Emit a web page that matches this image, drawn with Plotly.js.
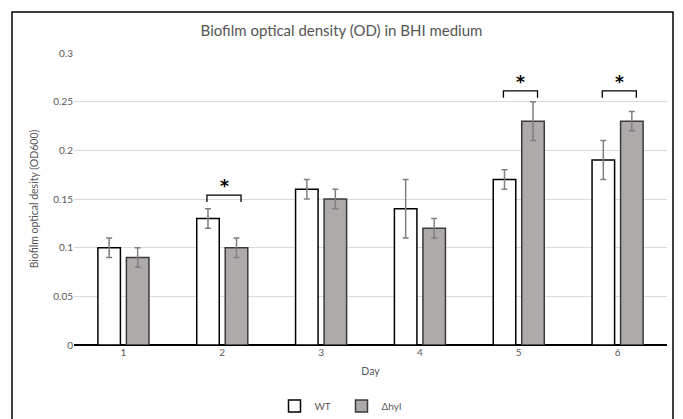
<!DOCTYPE html>
<html>
<head>
<meta charset="utf-8">
<script src="https://cdn.plot.ly/plotly-3.0.1.min.js"></script>
<style>html,body{margin:0;padding:0;background:#fff;}#chart{width:683px;height:419px;}</style>
</head>
<body>
<div id="chart"></div>
<script>
const days = [1, 2, 3, 4, 5, 6];
const dayLabels = ["1", "2", "3", "4", "5", "6"];
const wtValues = [0.10, 0.13, 0.16, 0.14, 0.17, 0.19];
const wtErrors = [0.01, 0.01, 0.01, 0.03, 0.01, 0.02];
const hylValues = [0.09, 0.10, 0.15, 0.12, 0.23, 0.23];
const hylErrors = [0.01, 0.01, 0.01, 0.01, 0.02, 0.01];
const significantDays = [2, 5, 6];
const seriesNames = ["WT", "Δhyl"];

const FONT = "Lato, 'Open Sans', sans-serif";
const textGray = "#595959";

const traces = [
  {
    type: "bar", name: seriesNames[0], x: days, y: wtValues,
    marker: {color: "#ffffff", line: {color: "#000000", width: 1.5}},
    error_y: {type: "data", array: wtErrors, visible: true, color: "#7f7f7f", thickness: 1.5, width: 3}
  },
  {
    type: "bar", name: seriesNames[1], x: days, y: hylValues,
    marker: {color: "#aeaaaa", line: {color: "#3a3a3a", width: 1.5}},
    error_y: {type: "data", array: hylErrors, visible: true, color: "#7f7f7f", thickness: 1.5, width: 3}
  }
];

// significance brackets
const shapes = [];
const annotations = [];
significantDays.forEach(d => {
  const top = d === 2 ? 0.154 : 0.261;
  const bot = top - 0.007;
  shapes.push({
    type: "path", xref: "x", yref: "y",
    path: `M ${d-0.155},${bot} L ${d-0.155},${top} L ${d+0.19},${top} L ${d+0.19},${bot}`,
    line: {color: "#000000", width: 1.3}
  });
  annotations.push({
    xref: "x", yref: "y", x: d + 0.02, y: top + 0.009, text: "<b>*</b>", showarrow: false,
    font: {family: "'DejaVu Sans', sans-serif", size: 17, color: "#000000"}, yanchor: "middle"
  });
});
// chart border
shapes.push({
  type: "rect", xref: "paper", yref: "paper",
  x0: -62/593, x1: 599/593, y0: -80/292, y1: 333/292,
  line: {color: "#000000", width: 1.5}, fillcolor: "rgba(0,0,0,0)", layer: "below"
});

const layout = {
  width: 683, height: 419,
  margin: {l: 74, r: 16, t: 53, b: 74},
  paper_bgcolor: "#ffffff", plot_bgcolor: "#ffffff",
  font: {family: FONT, color: textGray, size: 10},
  title: {text: "Biofilm optical density (OD) in BHI medium", x: 0.5, xref: "container",
          y: 1 - 31/419, yref: "container", yanchor: "middle",
          font: {family: FONT, size: 15, color: "#555555"}},
  barmode: "group", bargap: 0.423, bargroupgap: 0.21,
  xaxis: {
    range: [0.5, 6.5], tickvals: days, ticktext: dayLabels, showgrid: false,
    zeroline: false, showline: false, ticks: "",
    tickfont: {size: 10, color: textGray},
    title: {text: "Day", font: {size: 10.5, color: textGray}, standoff: 10}
  },
  yaxis: {
    range: [0, 0.3], showgrid: true, gridcolor: "#d9d9d9", gridwidth: 1,
    zeroline: true, zerolinecolor: "#000000", zerolinewidth: 1.5,
    tickfont: {size: 10, color: textGray}, ticks: "", ticklen: 0,
    tickvals: [0, 0.05, 0.1, 0.15, 0.2, 0.25, 0.3],
    ticktext: ["0", "0.05", "0.1", "0.15", "0.2", "0.25", "0.3"],
    title: {text: "Biofilm optical desity (OD600)", font: {size: 10.5, color: textGray}, standoff: 12}
  },
  showlegend: true,
  legend: {orientation: "h", x: 0.5, xref: "container", xanchor: "center",
           y: 1 - 406/419, yref: "container", yanchor: "middle",
           font: {size: 10, color: textGray}, itemwidth: 30,
           entrywidth: 22, entrywidthmode: "pixels"},
  shapes: shapes,
  annotations: annotations
};

Plotly.newPlot("chart", traces, layout, {displayModeBar: false, staticPlot: true});
</script>
</body>
</html>
